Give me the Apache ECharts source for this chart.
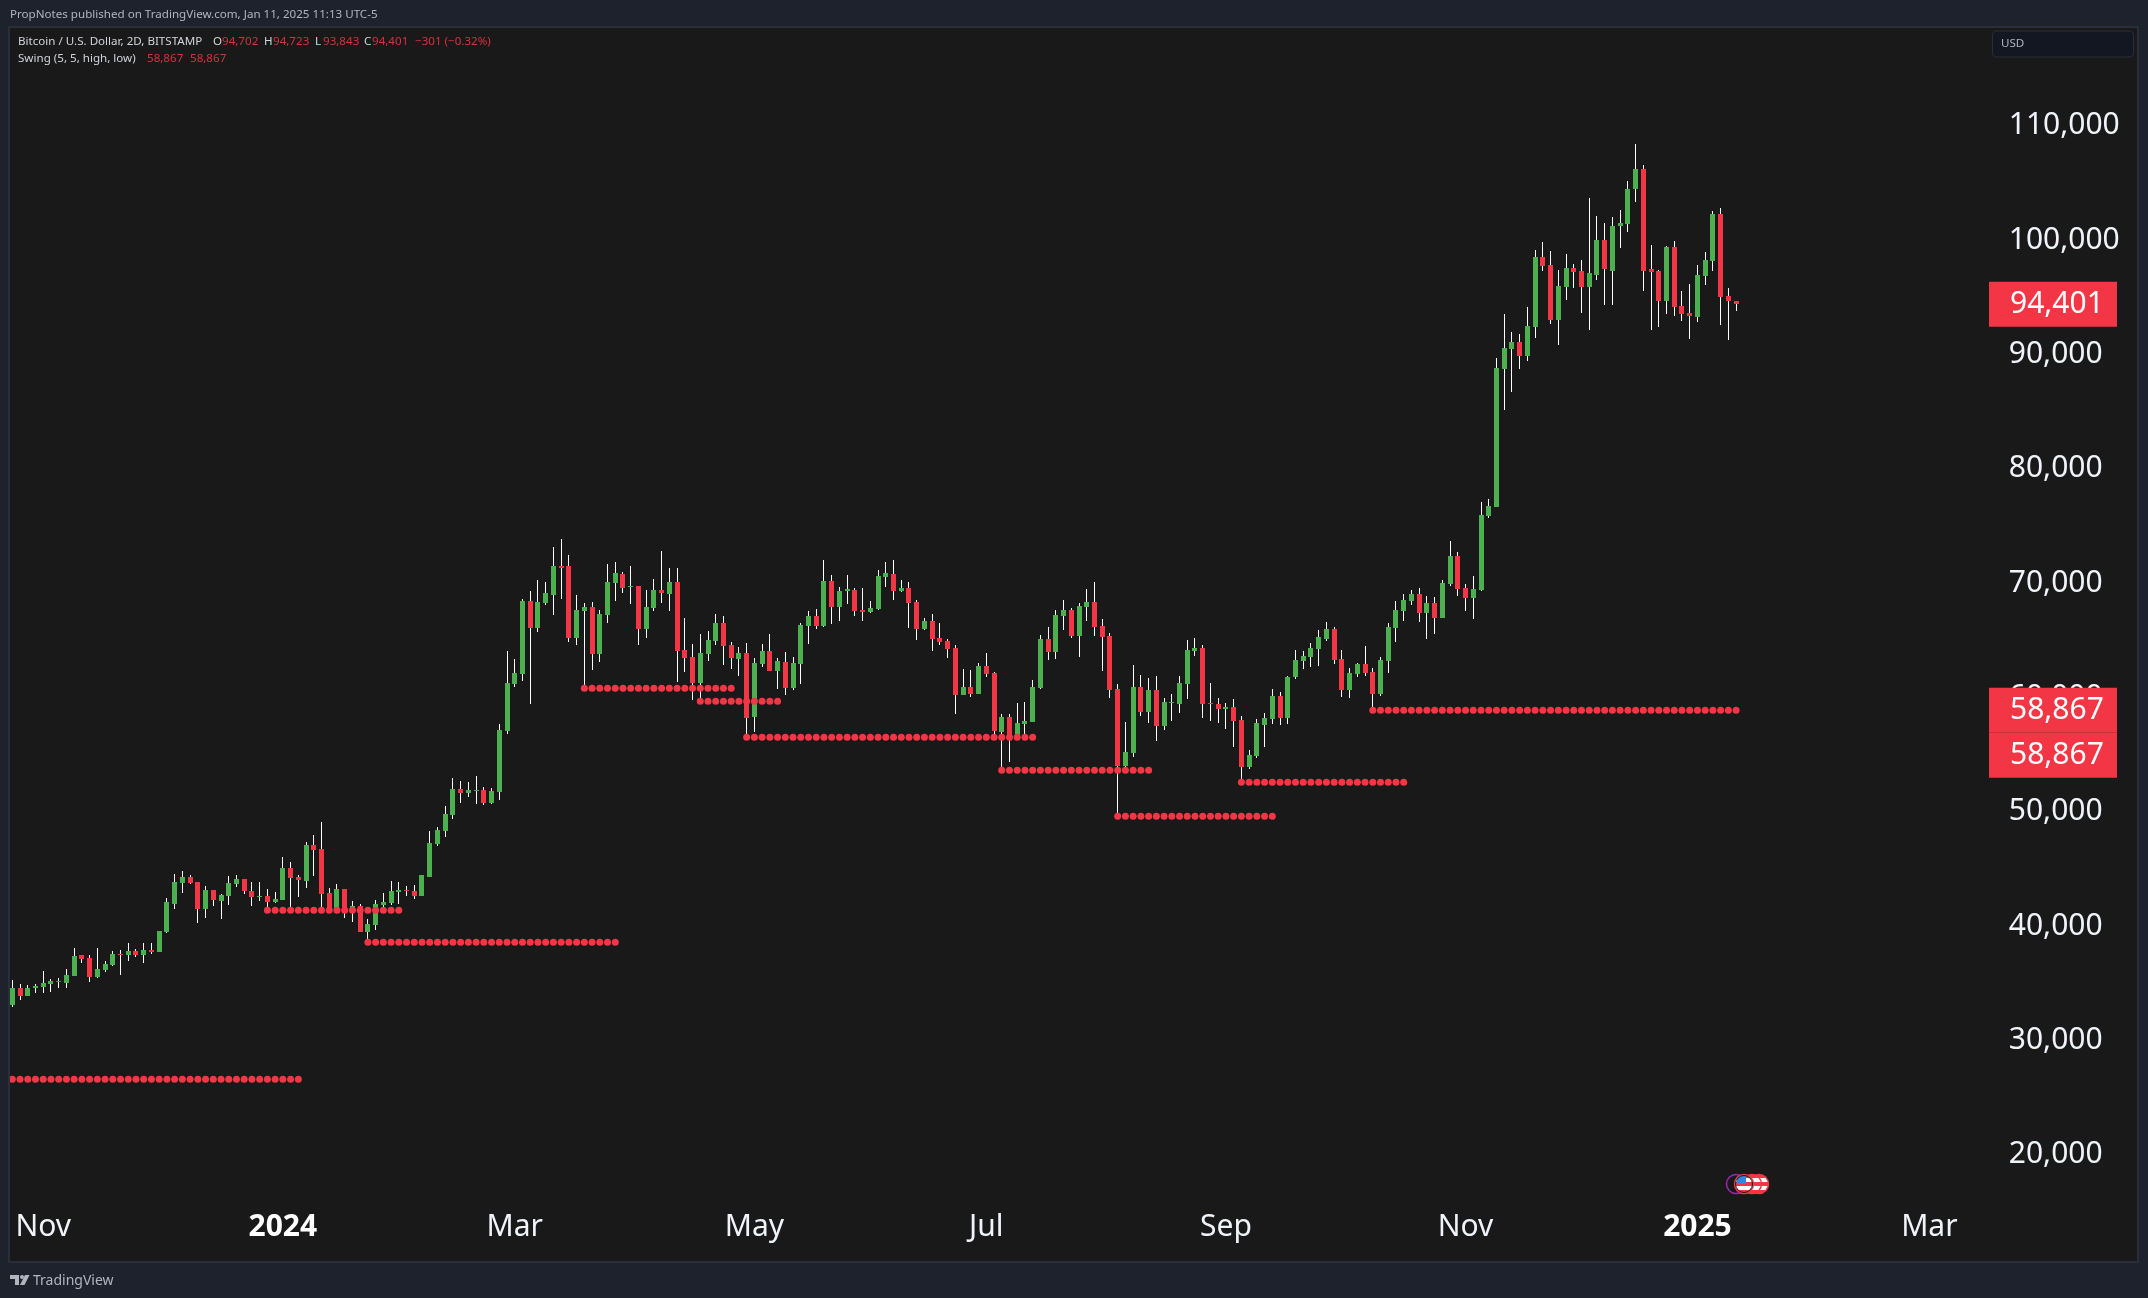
<!DOCTYPE html>
<html>
<head>
<meta charset="utf-8">
<title>BTCUSD 2D</title>
<style>
html, body { margin: 0; padding: 0; background: #1e222d; }
#chart { width: 2148px; height: 1298px; }
</style>
<script src="https://cdn.jsdelivr.net/npm/echarts@6/dist/echarts.min.js"></script>
</head>
<body>
<div id="chart"></div>
<script>
// candle values, 2D bars
const opens = [
  33120,34580,33880,34580,34660,34930,35190,35010,35630,37460,
  37200,35540,36150,36590,37550,37460,37810,37460,37900,37730,
  39480,41930,43760,44290,43850,41490,43150,42190,42630,43680,
  44110,43060,42540,42630,42100,42280,45080,44290,43940,47090,
  46740,42890,41550,43240,41230,41750,39480,40090,41840,42010,
  42980,43150,43060,42630,44290,47170,48310,49710,51990,51640,
  51810,51900,50760,51730,57060,61170,62050,68430,66070,68260,
  68960,71500,71500,65200,67560,67910,63800,67210,70010,70800,
  69660,69750,65990,67820,69400,69050,70100,64150,63540,61260,
  63800,64940,66510,64590,63360,63890,58290,62920,64060,62310,
  63100,60820,62920,66250,67120,66250,70180,67910,69310,69400,
  67650,67470,67730,70530,70800,69310,69570,68350,65990,66680,
  65200,64940,64320,60210,60910,60300,62750,62140,56980,58290,
  56630,57680,57850,60820,65110,63970,67120,67650,65370,67910,
  68350,66250,65370,60740,54000,55140,60910,58720,60650,57500,
  59510,59420,61170,64060,64320,59510,59420,58990,59160,58030,
  53910,54880,57590,58110,60120,58200,61790,63190,63540,64240,
  65110,65990,63360,60650,62050,62920,62220,60300,63190,66070,
  67560,68440,69050,67390,68260,66950,69920,72370,69570,68700,
  69400,75880,76660,88730,90480,91100,89870,92410,98530,97830,
  93020,95910,97570,97310,95910,96960,100020,97310,101240,101420,
  104480,106230,97480,97310,94680,99410,94250,93630,93280,96870,
  98180,102290,95120,94702
];
const closes = [
  34580,33880,34580,34750,35010,35190,35100,35710,37380,37110,
  35540,36240,36680,37550,37460,37810,37460,37900,37730,39560,
  42100,43850,44290,43760,41490,43150,42280,42710,43760,44110,
  43060,42540,42630,42100,42360,45080,44200,44030,47090,46650,
  42800,41550,43240,41230,41750,39480,40180,41930,42100,43060,
  43150,43060,42630,44460,47260,48400,49800,51990,51640,51900,
  51900,50760,51810,57150,61260,62140,68430,66070,68350,69130,
  71500,71320,65200,67650,67910,63800,67300,70100,70880,69570,
  69750,65990,67910,69400,69130,70100,64060,63450,61260,63890,
  65020,66510,64500,63450,63890,58200,63010,64060,62310,63190,
  60820,63010,66330,67120,66250,70180,67910,69310,69480,67560,
  67470,67820,70620,70880,69310,69570,68260,65990,66680,65110,
  64850,64240,60210,60910,60300,62750,62050,57060,58290,56710,
  57760,57940,60910,65110,63970,67210,67650,65370,68000,68350,
  66160,65290,60650,54000,55230,60910,58720,60650,57500,59600,
  59600,61260,64150,64320,59420,59420,58990,59160,57940,53910,
  54960,57760,58200,60120,58200,61790,63270,63620,64320,65290,
  65990,63270,60650,62140,62920,62140,60300,63270,66160,67650,
  68520,69050,67390,68260,66950,70010,72370,69480,68700,69480,
  75960,76750,88820,90570,91100,89870,92500,98530,97750,93020,
  96000,97570,97220,95910,97130,100020,97480,101240,101510,104480,
  106230,97310,97220,94680,99410,94160,93550,93370,96960,98270,
  102290,95030,94680,94401
];
const lows = [
  32940,33530,33880,34140,34140,34230,34580,34580,35630,36760,
  35100,35450,35980,36500,35710,36940,37290,36760,37550,37730,
  39390,41490,42890,43680,40260,40700,41750,40610,41840,43410,
  42800,41750,42190,41400,42010,42280,41490,42540,43330,44380,
  41490,41300,41400,40700,40350,39480,38600,39650,41490,41840,
  41930,42630,42360,42630,44290,47000,47790,49360,50760,51290,
  50680,50590,50680,51030,56800,60910,61440,59420,65720,68080,
  67210,68610,64850,64590,60790,62400,63100,66510,68430,69130,
  68170,64590,65200,67560,68260,67560,61350,62220,59770,59770,
  63190,64590,62840,62490,61870,56540,56970,62660,62310,60740,
  60210,60650,61170,64670,65990,66160,66420,66680,68170,67120,
  66680,67380,67650,69660,68520,69220,66070,65020,65900,64060,
  64590,63450,58550,60210,60040,60300,61790,56800,53650,54350,
  56360,56630,57850,60740,63270,63360,65900,65200,63540,66690,
  65370,62310,59950,49630,53650,54790,58370,57760,56190,57150,
  57940,58640,59860,63620,58200,57940,57760,57240,55660,52600,
  53740,54700,55660,57680,57590,57680,61610,62490,62660,62750,
  64940,62920,60040,59950,61790,61870,58900,60120,62140,64850,
  66690,68090,66600,65110,65550,66950,69750,68870,67560,66860,
  69310,75700,76660,85150,86720,88730,89430,91450,97310,92670,
  90830,94770,95820,93630,92150,96520,94330,94330,99320,100720,
  103340,95560,92150,92410,93550,93370,92930,91360,92850,96080,
  97310,92580,91270,93843
];
const highs = [
  35280,34930,34840,34930,36060,35360,35450,36240,38080,37460,
  37460,38080,36940,37810,37900,38510,37990,38510,38510,39560,
  42450,44550,44810,44460,43850,43500,43150,42800,44380,44460,
  44110,43850,43850,43240,42980,46040,45600,44460,47350,47960,
  49100,43330,43680,43240,42190,41930,40610,42280,42890,43940,
  43850,43500,43590,44460,48310,48660,50500,52950,52690,52600,
  53130,52160,52080,57670,64060,63360,68610,69310,70270,70100,
  73160,73860,72460,68960,68260,68350,67650,71670,71850,70970,
  71500,69750,69400,70360,72810,71320,71320,66950,64670,65550,
  65810,67300,67120,64850,64410,64760,63450,64670,65550,63450,
  63970,63540,66510,67560,67730,72020,70710,69660,70710,69570,
  69570,68430,71150,71850,72020,70270,70100,68520,66950,67300,
  66510,65110,64590,62490,62400,63010,63890,62220,58550,58550,
  59510,59600,61520,65460,66160,67650,68520,67820,68260,69480,
  70100,66860,65640,61170,57850,62840,61960,61700,61870,59950,
  60300,61870,65020,65200,64590,61260,59950,59510,59860,58370,
  55400,58110,58640,60740,60470,61870,64150,64060,64760,65900,
  66600,66160,64150,62570,63010,64500,62570,63540,66510,68440,
  69050,69400,69570,68870,68790,70270,73680,72720,69920,70620,
  77100,77360,89700,93550,91970,91800,94160,99140,99840,99060,
  97400,98790,97920,98270,103690,102120,101510,102030,102640,105180,
  108420,106580,99580,97400,99490,99930,95560,96170,97830,98970,
  102560,102820,95820,94723
];

// swing levels and the bars each one runs across
const swingLevels = [26590, 41370, 38570, 60790, 59660, 56510, 53620, 49600, 52570, 58867];
const swingStarts = [0, 33, 46, 74, 89, 95, 128, 143, 159, 176];
const swingEnds = [37, 50, 78, 93, 99, 132, 147, 163, 180, 223];

const priceTicks = [20000, 30000, 40000, 50000, 60000, 70000, 80000, 90000, 100000, 110000];
const timeTickBars = [4, 35, 65, 96, 126, 157, 188, 218, 248];
const timeTickLabels = ['Nov', '2024', 'Mar', 'May', 'Jul', 'Sep', 'Nov', '2025', 'Mar'];

const lastPrice = 94401;
const swingPrice = 58867;

const BAR_COUNT = 258; // bars plus the empty space on the right
const BAR_STEP = 7.73;

const UP = '#4caf50';
const DOWN = '#f23645';
const PAGE = '#1e222d';
const PANE = '#191919';
const EDGE = '#2a2e39';
const LABEL = 'Noto Sans';
const SMALL = '11.6px "Noto Sans"';

const chart = echarts.init(document.getElementById('chart'));

// time axis categories, one for every 2D bar
const barDates = [];
const firstBar = Date.UTC(2023, 9, 24);
for (let i = 0; i < BAR_COUNT; i++) {
  barDates.push(new Date(firstBar + i * 2 * 86400000).toISOString().slice(0, 10));
}

const candleData = opens.map((o, i) => [i, o, closes[i], lows[i], highs[i]]);

const swingData = [];
swingLevels.forEach((level, n) => {
  for (let i = swingStarts[n]; i <= swingEnds[n]; i++) {
    swingData.push([i, level]);
  }
});

// TradingView has white wicks and borderless bodies, the stock candlestick can't do that
function renderCandle(params, api) {
  const i = api.value(0);
  const o = api.value(1);
  const c = api.value(2);
  const x = Math.round(api.coord([i, o])[0] - 2.5);
  const yO = Math.round(api.coord([i, o])[1]);
  const yC = Math.round(api.coord([i, c])[1]);
  const yL = Math.round(api.coord([i, api.value(3)])[1]);
  const yH = Math.round(api.coord([i, api.value(4)])[1]);
  return {
    type: 'group',
    children: [
      { type: 'rect', shape: { x: x + 2, y: yH, width: 1, height: yL - yH }, style: { fill: '#ffffff' } },
      {
        type: 'rect',
        shape: { x: x, y: Math.min(yO, yC), width: 5, height: Math.max(1, Math.abs(yO - yC)) },
        style: { fill: c >= o ? UP : DOWN }
      }
    ]
  };
}

// price tags on the scale, the third value pushes a tag down when two collide
function renderTag(params, api) {
  const y = api.coord([0, api.value(1)])[1] + api.value(2);
  return {
    type: 'group',
    children: [
      { type: 'rect', shape: { x: 1989, y: y - 22.5, width: 128, height: 45 }, style: { fill: DOWN } },
      {
        type: 'text',
        style: {
          x: 2010, y: y, text: api.value(1).toLocaleString('en-US'),
          fill: '#ffffff', font: '30px "' + LABEL + '"', textAlign: 'left', textVerticalAlign: 'middle'
        }
      }
    ]
  };
}

function smallText(x, y, text, fill) {
  return { type: 'text', z: 60, style: { x: x, y: y, text: text, fill: fill, font: SMALL, textVerticalAlign: 'middle' } };
}

// legend readout: label/value pairs in the top left corner
const LEGEND_TEXT = '#d1d4dc';
const LEGEND_RED = '#d8303f';
const legendItems = [
  smallText(18, 42, 'Bitcoin / U.S. Dollar, 2D, BITSTAMP', LEGEND_TEXT),
  smallText(213, 42, 'O', LEGEND_TEXT), smallText(222, 42, '94,702', LEGEND_RED),
  smallText(264, 42, 'H', LEGEND_TEXT), smallText(273, 42, '94,723', LEGEND_RED),
  smallText(315, 42, 'L', LEGEND_TEXT), smallText(323, 42, '93,843', LEGEND_RED),
  smallText(364, 42, 'C', LEGEND_TEXT), smallText(372, 42, '94,401', LEGEND_RED),
  smallText(415, 42, '\u2212301 (\u22120.32%)', LEGEND_RED),
  smallText(18, 59, 'Swing (5, 5, high, low)', LEGEND_TEXT),
  smallText(147, 59, '58,867', LEGEND_RED), smallText(190, 59, '58,867', LEGEND_RED)
];

// economic event badges under the last bars
function badge(cx, stroke, striped) {
  const fill = striped ? new echarts.graphic.LinearGradient(0, 0, 0, 1, [
    { offset: 0, color: '#f23645' }, { offset: 0.2, color: '#f23645' },
    { offset: 0.2, color: '#ffffff' }, { offset: 0.4, color: '#ffffff' },
    { offset: 0.4, color: '#f23645' }, { offset: 0.6, color: '#f23645' },
    { offset: 0.6, color: '#ffffff' }, { offset: 0.8, color: '#ffffff' },
    { offset: 0.8, color: '#f23645' }, { offset: 1, color: '#f23645' }
  ]) : PANE;
  return { type: 'circle', z: 40, shape: { cx: cx, cy: 1184, r: 9.5 }, style: { fill: fill, stroke: stroke, lineWidth: 1.5 } };
}

const option = {
  animation: false,
  backgroundColor: PAGE,
  textStyle: { fontFamily: LABEL },
  grid: { left: 8.44, top: 125.9, width: BAR_COUNT * BAR_STEP, height: 1028.7 },
  xAxis: {
    type: 'category',
    data: barDates,
    boundaryGap: true,
    axisLine: { show: false },
    axisTick: { show: false },
    splitLine: { show: false },
    axisLabel: {
      margin: 58,
      color: '#f0f3fa',
      fontFamily: LABEL,
      fontSize: 30,
      interval: (index) => timeTickBars.includes(index),
      formatter: (value, index) => {
        const label = timeTickLabels[timeTickBars.indexOf(index)];
        return /^\d+$/.test(label) ? '{year|' + label + '}' : label;
      },
      rich: {
        year: { color: '#ffffff', fontFamily: LABEL, fontSize: 30, fontWeight: 700 }
      }
    }
  },
  yAxis: {
    type: 'value',
    position: 'right',
    min: priceTicks[0],
    max: priceTicks[priceTicks.length - 1],
    interval: priceTicks[1] - priceTicks[0],
    axisLine: { show: false },
    axisTick: { show: false },
    splitLine: { show: false },
    axisLabel: {
      margin: 6,
      color: '#f0f3fa',
      fontFamily: LABEL,
      fontSize: 30,
      padding: [0, 0, 6, 0],
      formatter: (value) => value.toLocaleString('en-US')
    }
  },
  series: [
    {
      name: 'BTCUSD',
      type: 'custom',
      z: 2,
      silent: true,
      renderItem: renderCandle,
      encode: { x: 0, y: [1, 2, 3, 4] },
      data: candleData
    },
    {
      name: 'Swing',
      type: 'scatter',
      z: 3,
      silent: true,
      symbol: 'circle',
      symbolSize: 7,
      itemStyle: { color: DOWN, opacity: 1 },
      data: swingData
    },
    {
      name: 'Tags',
      type: 'custom',
      z: 5,
      silent: true,
      clip: false,
      renderItem: renderTag,
      encode: { y: 1 },
      data: [[0, lastPrice, 0], [0, swingPrice, 0], [0, swingPrice, 45]]
    }
  ],
  graphic: [
    // pane and its frame
    { type: 'rect', z: -10, shape: { x: 9, y: 27, width: 2129, height: 1235 }, style: { fill: PANE, stroke: EDGE, lineWidth: 2 } },
    { type: 'rect', z: 50, shape: { x: 0, y: 0, width: 8, height: 1298 }, style: { fill: PAGE } },
    { type: 'rect', z: 50, shape: { x: 8, y: 27, width: 2, height: 1235 }, style: { fill: EDGE } },
    smallText(10, 15, 'PropNotes published on TradingView.com, Jan 11, 2025 11:13 UTC-5', '#b2b5be'),
    ...legendItems,
    // currency box
    { type: 'rect', z: 30, shape: { x: 1992.5, y: 31, width: 141, height: 26, r: 4 }, style: { fill: '#131722', stroke: EDGE, lineWidth: 1 } },
    smallText(2001, 44, 'USD', '#b2b5be'),
    // event badges
    badge(1736, '#9c27b0', false),
    badge(1759, '#f23645', true),
    badge(1752, '#f23645', true),
    badge(1744, '#f23645', true),
    { type: 'rect', z: 41, shape: { x: 1737, y: 1176, width: 9, height: 8, r: [4, 0, 0, 0] }, style: { fill: '#2e86de' } },
    { type: 'circle', z: 41, shape: { cx: 1744, cy: 1184, r: 8.5 }, style: { fill: 'none', stroke: '#1a1a1a', lineWidth: 1 } },
    // footer logo
    { type: 'polygon', z: 60, shape: { points: [[10, 1275], [19, 1275], [19, 1285], [15, 1285], [15, 1279], [10, 1279]] }, style: { fill: '#b2b5be' } },
    { type: 'circle', z: 60, shape: { cx: 22, cy: 1277, r: 2 }, style: { fill: '#b2b5be' } },
    { type: 'polygon', z: 60, shape: { points: [[25, 1275], [29.5, 1275], [24.5, 1285], [20, 1285]] }, style: { fill: '#b2b5be' } },
    { type: 'text', z: 60, style: { x: 33, y: 1281, text: 'TradingView', fill: '#b2b5be', font: '14px "Noto Sans"', textVerticalAlign: 'middle' } }
  ]
};

chart.setOption(option);
window.addEventListener('resize', () => chart.resize());
</script>
</body>
</html>
